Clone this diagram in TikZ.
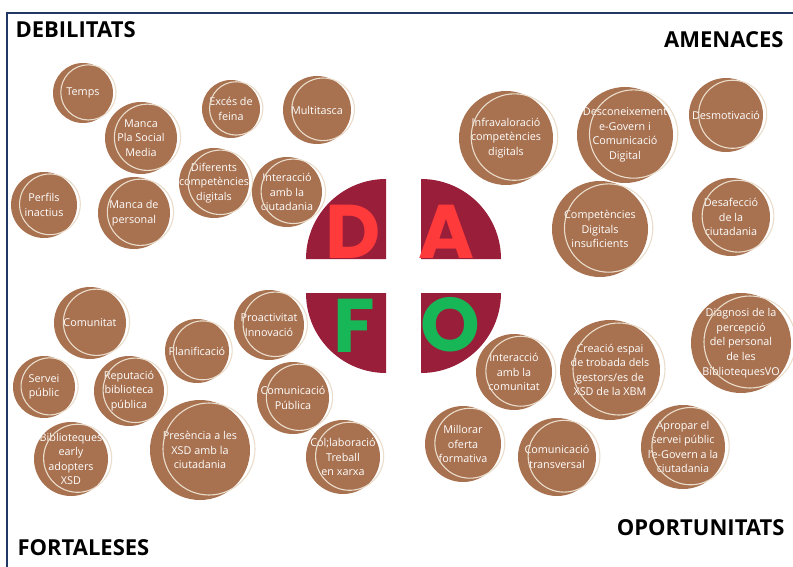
\documentclass[tikz,border=0pt]{standalone}
\usepackage{fontspec}
\setmainfont{Open Sans}
\newfontfamily\lletra{Poppins}
\usepackage{tikz}

\definecolor{marro}{HTML}{A8714F}
\definecolor{crema}{HTML}{EADDCC}
\definecolor{grana}{HTML}{981E3A}
\definecolor{vermell}{HTML}{FF3A3A}
\definecolor{verd}{HTML}{17B657}
\definecolor{blaufosc}{HTML}{1F3864}

\begin{document}
\begin{tikzpicture}[
    x=1pt, y=-1pt,
    bolla/.style={fill=marro},
    anella/.style={draw=crema, line width=1.1pt},
    rotul/.style={
        text=white,
        align=center,
        inner sep=0pt,
        font=\fontsize{10.8}{14.6}\selectfont
    },
    titol/.style={font=\fontsize{22}{26}\selectfont\bfseries},
    quadrant/.style={fill=grana},
    lletraq/.style={font=\fontsize{76}{80}\selectfont\lletra\bfseries, inner sep=0pt}
]
\useasboundingbox (0,0) rectangle (793,567);
\fill[white] (0,0) rectangle (793,567);

% marc
\draw[blaufosc, line width=1.8pt] (7,567) -- (7,13) -- (793,13);

% titols
\node[titol, anchor=base west] (debilitats) at (12,38) {DEBILITATS};
\node[titol, anchor=base east] (amenaces) at (787,48) {AMENACES};
\node[titol, anchor=base west] (fortaleses) at (14,555) {FORTALESES};
\node[titol, anchor=base east] (oportunitats) at (788,535) {OPORTUNITATS};

% quadrants centrals
\fill[quadrant] (386,259) -- (306,259) arc[start angle=180, end angle=270, radius=80] -- cycle;
\fill[quadrant] (421,259) -- (421,179) arc[start angle=270, end angle=360, radius=80] -- cycle;
\fill[quadrant] (386,293) -- (306,293) arc[start angle=180, end angle=90, radius=80] -- cycle;
\fill[quadrant] (421,293) -- (501,293) arc[start angle=0, end angle=90, radius=80] -- cycle;
\node[lletraq, text=vermell] (lD) at (353,232) {D};
\node[lletraq, text=vermell] (lA) at (447,232) {A};
\node[lletraq, text=verd] (lF) at (354,326) {F};
\node[lletraq, text=verd] (lO) at (450,325) {O};

% bombolles
\foreach \n/\x/\y/\r/\t in {
    temps/83/93/30/{Temps},
    pla/141/138/36/{Manca\\Pla Social\\Media},
    exces/231/109/29/{Excés de\\feina},
    multi/317/110/34/{Multitasca},
    perfils/44/205/33/{Perfils\\inactius},
    personal/134/213/36/{Manca de\\personal},
    diferents/214/183/35/{Diferents\\competències\\digitals},
    interac/287/192/35/{Interacció\\amb la\\ciutadania},
    infra/506/138/47/{Infravaloració\\competències\\digitals},
    descon/625/135/48/{Desconeixement\\e-Govern i\\Comunicació\\Digital},
    desmot/726/115/37/{Desmotivació},
    insuf/600/229/48/{Competències\\Digitals\\insuficients},
    desafec/731/217/39/{Desafecció\\de la\\ciutadania},
    comunitat/90/323/36/{Comunitat},
    servei/44/387/31/{Servei\\públic},
    reputacio/129/391/35/{Reputació\\biblioteca\\pública},
    planif/197/351/32/{Planificació},
    proact/269/325/35/{Proactivitat\\Innovació},
    compub/293/398/36/{Comunicació\\Pública},
    early/71/459/37/{Biblioteques\\early\\adopters\\XSD},
    presencia/200/450/50/{Presència a les\\XSD amb la\\ciutadania},
    collab/343/457/37/{Col;laboració\\Treball\\en xarxa},
    intcom/514/372/38/{Interacció\\amb la\\comunitat},
    creacio/610/370/50/{Creació espai\\de trobada dels\\gestors/es de\\XSD de la XBM},
    diagnosi/741/343/50/{Diagnosi de la\\percepció\\del personal\\de les\\BibliotequesVO},
    millorar/463/444/38/{Millorar\\oferta\\formativa},
    transv/557/457/39/{Comunicació\\transversal},
    apropar/683/447/42/{Apropar el\\servei públic\\l'e-Govern a la\\ciutadania}%
}{
    \fill[bolla] (\x,\y) circle[radius=\r];
    \node[rotul] (\n) at (\x,\y) {\t};
    \draw[anella] (\x+0.18*\r,\y-0.02*\r) circle[radius=0.92*\r];
}
\end{tikzpicture}
\end{document}
